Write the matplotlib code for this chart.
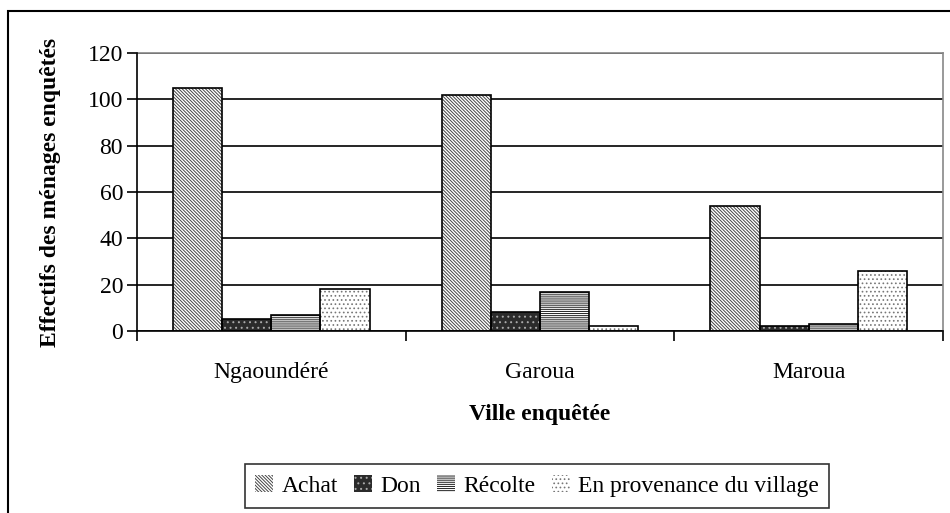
import matplotlib
matplotlib.use("Agg")
import matplotlib.pyplot as plt
import numpy as np
from matplotlib.patches import Rectangle

categories = ["Ngaoundéré", "Garoua", "Maroua"]
series_names = ["Achat", "Don", "Récolte", "En provenance du village"]
achat = [105, 102, 54]
don = [5, 8, 2]
recolte = [7, 17, 3]
village = [18, 2, 26]
yticks = [0, 20, 40, 60, 80, 100, 120]

plt.rcParams['font.family'] = ['Liberation Serif', 'DejaVu Serif']
plt.rcParams['hatch.linewidth'] = 0.7

fig = plt.figure(figsize=(9.5, 5.13), dpi=100)
ax = fig.add_axes([137/950, 1-331/513, (943-137)/950, (331-53)/513])

styles = [
    dict(face='white', hatch='\\' * 10, hcol='#444444'),
    dict(face='#2b2b2b', hatch='...', hcol='#aaaaaa'),
    dict(face='white', hatch='-' * 8, hcol='#222222'),
    dict(face='white', hatch='....', hcol='#777777'),
]
data = [achat, don, recolte, village]
x = np.arange(len(categories))
w = 0.183
handles = []
for i, (vals, st) in enumerate(zip(data, styles)):
    pos = x + (i - 1.5) * w
    ax.bar(pos, vals, w, color=st['face'], edgecolor=st['hcol'], hatch=st['hatch'],
           linewidth=0, zorder=3)
    ax.bar(pos, vals, w, facecolor='none', edgecolor='black', linewidth=1.2, zorder=4)
    h = Rectangle((0, 0), 1, 1, facecolor=st['face'], edgecolor=st['hcol'], hatch=st['hatch'], linewidth=0)
    handles.append(h)

ax.set_xlim(-0.5, 2.5)
ax.set_ylim(0, 120)
ax.set_yticks(yticks)
ax.set_yticklabels([str(v) for v in yticks], fontsize=17)
ax.set_xticks([-0.5, 0.5, 1.5, 2.5], minor=False)
ax.set_xticklabels([])
ax.set_xticks(x, minor=True)
ax.set_xticklabels(categories, minor=True, fontsize=17)
ax.tick_params(axis='x', which='minor', length=0, pad=22)
ax.tick_params(axis='x', which='major', length=7, width=1.2, direction='out', color='black')
ax.tick_params(axis='y', length=7, width=1.2, direction='out', pad=3)
ax.grid(axis='y', color='black', linewidth=1.2, zorder=1)
ax.set_axisbelow(True)
for s in ['top', 'right']:
    ax.spines[s].set_color('#888888')
    ax.spines[s].set_linewidth(1.2)
for s in ['left', 'bottom']:
    ax.spines[s].set_color('black')
    ax.spines[s].set_linewidth(1.2)
    ax.spines[s].set_zorder(5)

ax.set_ylabel("Effectifs des ménages enquêtés", fontsize=17, fontweight='bold')
ax.yaxis.set_label_coords(-0.107, 0.5)
ax.yaxis.label.set_va('center')
ax.set_xlabel("Ville enquêtée", fontsize=17, fontweight='bold')
ax.xaxis.set_label_coords(0.5, -0.30)
ax.xaxis.label.set_va('center')

leg = fig.legend(handles, series_names, loc='center', bbox_to_anchor=(537/950, 1-486/513),
                 ncol=4, fontsize=17, frameon=True, fancybox=False, edgecolor='black',
                 handlelength=0.75, handleheight=0.75, handletextpad=0.35, columnspacing=0.7,
                 borderpad=0.45)
leg.get_frame().set_linewidth(1.2)

fig.patches.append(Rectangle((8/950, -0.1), 1.2, 1.1 - 11/513, transform=fig.transFigure,
                             fill=False, edgecolor='black', linewidth=1.5))

fig.savefig("out.png", dpi=100)
